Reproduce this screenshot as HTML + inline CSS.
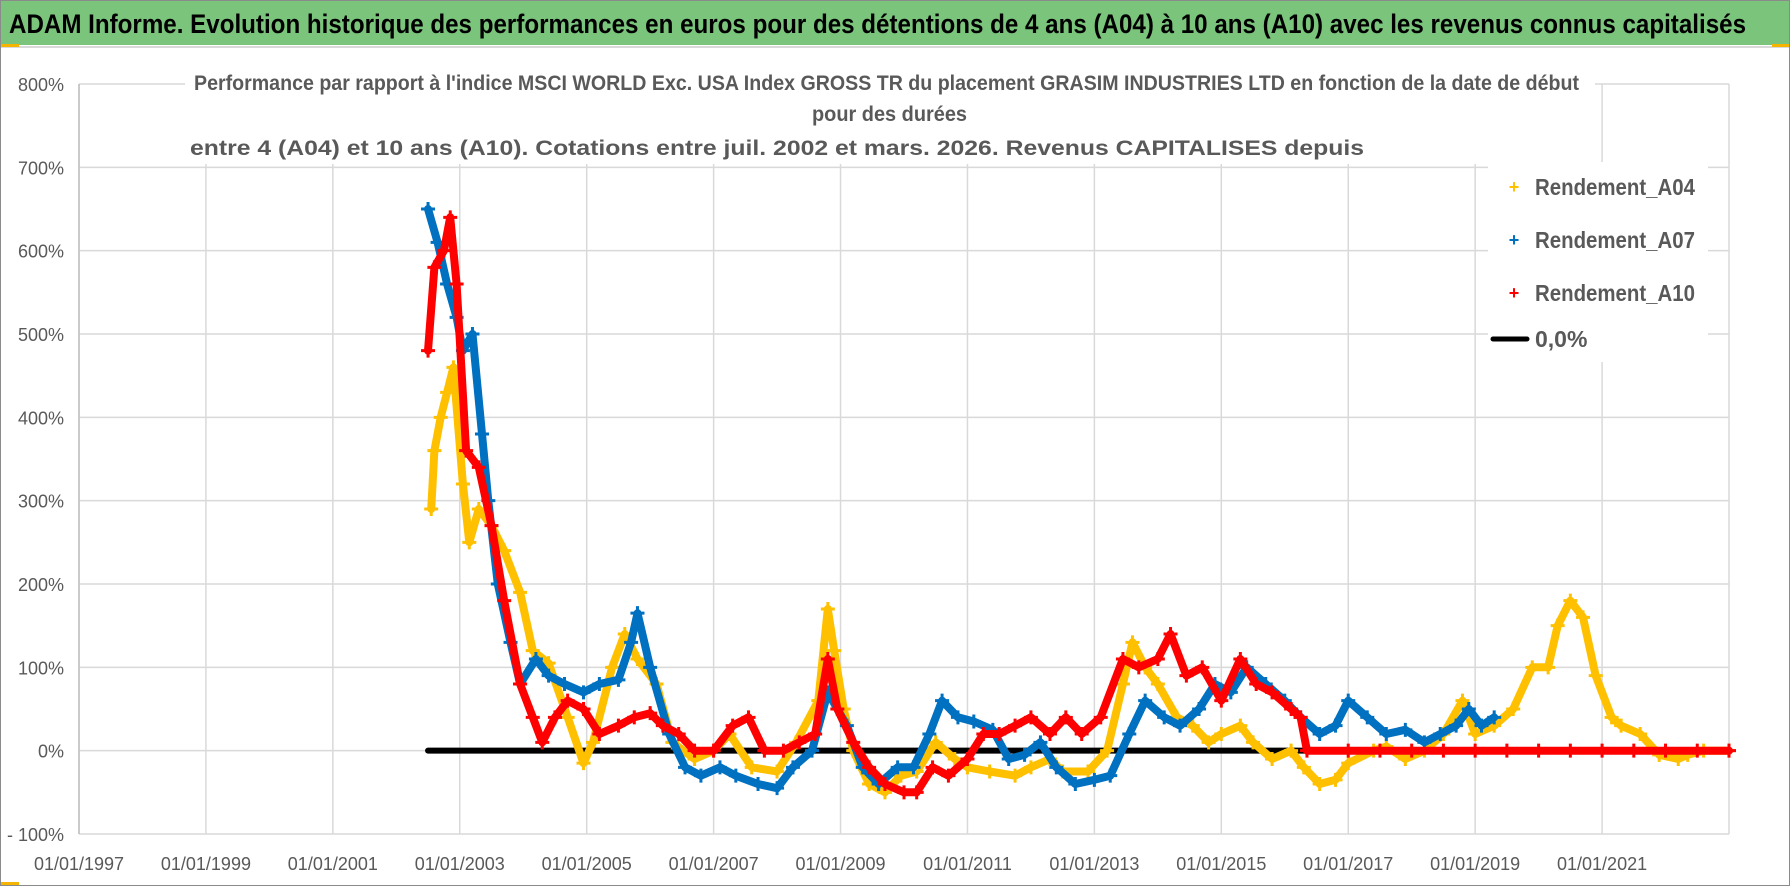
<!DOCTYPE html>
<html><head><meta charset="utf-8"><style>
html,body{margin:0;padding:0;background:#fff}
svg{display:block}
text{font-family:"Liberation Sans Narrow","Liberation Sans",sans-serif}
</style></head><body>
<svg id="chart" width="1790" height="886" viewBox="0 0 1790 886" xmlns="http://www.w3.org/2000/svg">
<rect x="0.5" y="0.5" width="1789" height="885" fill="#fff" stroke="#8a8a8a"/>
<rect x="1" y="1" width="1788" height="44" fill="#7ac47c"/>
<line x1="1" y1="47" x2="1789" y2="47" stroke="#d9d9d9" stroke-width="2"/>
<rect x="1" y="44" width="18" height="3" fill="#f4b400"/>
<rect x="1772" y="44" width="17" height="3" fill="#f4b400"/>
<rect x="1" y="882" width="18" height="3" fill="#f4b400"/>
<text x="9" y="33" font-size="27" font-weight="bold" fill="#000" textLength="1737" lengthAdjust="spacingAndGlyphs">ADAM Informe. Evolution historique des performances en euros pour des détentions de 4 ans (A04) à 10 ans (A10) avec les revenus connus capitalisés</text>
<g id="grid"></g>
<g id="yticks"></g>
<g id="xticks"></g>
<rect x="185" y="64" width="1410" height="100" fill="#fff"/>
<text x="194" y="90" font-size="21" font-weight="bold" fill="#595959" textLength="1385" lengthAdjust="spacingAndGlyphs">Performance par rapport à l'indice MSCI WORLD Exc. USA Index GROSS TR  du placement GRASIM INDUSTRIES LTD en fonction de la date de début</text>
<text x="812" y="121" font-size="21" font-weight="bold" fill="#595959" textLength="155" lengthAdjust="spacingAndGlyphs">pour des durées</text>
<text x="190" y="155" font-size="21" font-weight="bold" fill="#595959" textLength="1174" lengthAdjust="spacingAndGlyphs">entre 4 (A04) et 10 ans (A10). Cotations entre juil. 2002 et mars. 2026. Revenus CAPITALISES depuis</text>
<g id="series"></g>
<g>
<rect x="1488" y="162" width="220" height="200" fill="#fff"/>
<g><text x="1514" y="193" font-size="18" fill="#ffc000" font-weight="bold" text-anchor="middle">+</text><text x="1535" y="195" font-size="23" font-weight="bold" fill="#595959" textLength="160" lengthAdjust="spacingAndGlyphs">Rendement_A04</text></g>
<g><text x="1514" y="246" font-size="18" fill="#0070c0" font-weight="bold" text-anchor="middle">+</text><text x="1535" y="248" font-size="23" font-weight="bold" fill="#595959" textLength="160" lengthAdjust="spacingAndGlyphs">Rendement_A07</text></g>
<g><text x="1514" y="299" font-size="18" fill="#ff0000" font-weight="bold" text-anchor="middle">+</text><text x="1535" y="301" font-size="23" font-weight="bold" fill="#595959" textLength="160" lengthAdjust="spacingAndGlyphs">Rendement_A10</text></g>
<g><line x1="1493" y1="339" x2="1527" y2="339" stroke="#000" stroke-width="5" stroke-linecap="round"/><text x="1535" y="347" font-size="23" font-weight="bold" fill="#595959">0,0%</text></g>
</g>
</svg>
<script>
const yTicks=[-100,0,100,200,300,400,500,600,700,800];
const xTickYears=[1997,1999,2001,2003,2005,2007,2009,2011,2013,2015,2017,2019,2021,2023];
const xTickLabels=["01/01/1997","01/01/1999","01/01/2001","01/01/2003","01/01/2005","01/01/2007","01/01/2009","01/01/2011","01/01/2013","01/01/2015","01/01/2017","01/01/2019","01/01/2021"];
const a04Years=[2002.55,2002.6,2002.7,2002.8,2002.9,2003.05,2003.15,2003.3,2003.5,2003.7,2003.95,2004.15,2004.4,2004.7,2004.95,2005.1,2005.4,2005.6,2005.8,2006.1,2006.35,2006.7,2007.0,2007.25,2007.6,2008.0,2008.3,2008.65,2008.8,2008.9,2009.05,2009.2,2009.45,2009.7,2009.95,2010.2,2010.5,2010.8,2011.0,2011.35,2011.75,2012.0,2012.3,2012.5,2012.9,2013.2,2013.45,2013.6,2013.8,2014.0,2014.3,2014.55,2014.8,2015.0,2015.3,2015.5,2015.8,2016.1,2016.3,2016.55,2016.8,2017.0,2017.4,2017.6,2017.9,2018.2,2018.5,2018.8,2019.0,2019.3,2019.6,2019.9,2020.15,2020.3,2020.5,2020.7,2020.9,2021.15,2021.3,2021.6,2021.9,2022.2,2022.35,2022.6,2023.0];
const a04Values=[290,360,400,430,460,320,250,290,270,240,190,120,105,40,-15,10,100,140,110,80,10,-10,0,20,-20,-25,10,60,170,120,50,0,-40,-50,-30,-25,10,-10,-20,-25,-30,-20,-10,-25,-25,0,80,130,100,80,40,30,10,20,30,10,-10,0,-20,-40,-35,-15,0,5,-10,0,20,60,20,30,50,100,100,150,180,160,90,40,30,20,-5,-10,-5,0,0];
const a07Years=[2002.5,2002.65,2002.8,2002.95,2003.05,2003.2,2003.35,2003.45,2003.6,2003.8,2003.95,2004.2,2004.4,2004.65,2004.95,2005.2,2005.5,2005.7,2005.8,2006.0,2006.3,2006.55,2006.8,2007.1,2007.35,2007.7,2008.0,2008.25,2008.55,2008.8,2009.1,2009.35,2009.6,2009.9,2010.15,2010.4,2010.6,2010.85,2011.1,2011.4,2011.65,2011.9,2012.15,2012.4,2012.7,2013.0,2013.25,2013.55,2013.8,2014.1,2014.35,2014.65,2014.9,2015.15,2015.4,2015.7,2016.0,2016.25,2016.55,2016.8,2017.0,2017.3,2017.6,2017.9,2018.2,2018.45,2018.7,2018.9,2019.1,2019.3];
const a07Values=[650,610,560,520,480,500,380,300,200,130,80,110,90,80,70,80,85,130,165,100,20,-20,-30,-20,-30,-40,-45,-20,0,70,30,-20,-40,-20,-20,20,60,40,35,25,-10,-5,10,-20,-40,-35,-30,20,60,40,30,50,80,70,100,80,60,40,20,30,60,40,20,25,10,20,30,50,30,40];
const a10Years=[2002.5,2002.6,2002.75,2002.85,2002.95,2003.1,2003.3,2003.5,2003.7,2003.95,2004.15,2004.3,2004.5,2004.7,2004.95,2005.2,2005.5,2005.75,2006.0,2006.2,2006.45,2006.7,2007.0,2007.3,2007.55,2007.8,2008.1,2008.35,2008.6,2008.8,2008.95,2009.2,2009.45,2009.7,2010.0,2010.2,2010.45,2010.7,2011.0,2011.25,2011.5,2011.75,2012.0,2012.3,2012.55,2012.8,2013.1,2013.45,2013.7,2014.0,2014.2,2014.45,2014.7,2015.0,2015.3,2015.55,2015.8,2016.1,2016.25,2016.35,2017.0,2017.5,2018.0,2018.5,2019.0,2019.5,2020.0,2020.5,2021.0,2021.5,2022.0,2022.5,2023.0];
const a10Values=[480,580,600,640,560,360,340,270,180,80,40,10,40,60,50,20,30,40,45,30,20,0,0,30,40,0,0,10,20,110,50,10,-20,-40,-50,-50,-20,-30,-10,20,20,30,40,20,40,20,40,110,100,110,140,90,100,60,110,80,70,50,40,0,0,0,0,0,0,0,0,0,0,0,0,0,0];
const zeroLineYears=[2002.5,2023.0];
const zeroLineValues=[0,0];

const NS="http://www.w3.org/2000/svg";
const X0=79,X1=1729,Y0=834,Y1=84;
function xs(yr){return X0+(yr-1997)/(2023-1997)*(X1-X0);}
function ys(v){return Y0-(v+100)/900*(Y0-Y1);}
function mk(tag,attrs,parent){const e=document.createElementNS(NS,tag);for(const k in attrs)e.setAttribute(k,attrs[k]);parent.appendChild(e);return e;}
const grid=document.getElementById('grid'),yg=document.getElementById('yticks'),xg=document.getElementById('xticks'),sg=document.getElementById('series');
yTicks.forEach(v=>{
  const l=mk('line',{x1:X0,x2:X1,y1:ys(v),y2:ys(v),stroke:'#d9d9d9','stroke-width':1.5},grid);
  
  
  const t=mk('text',{x:64,y:ys(v)+7,'font-size':18,fill:'#595959','text-anchor':'end'},yg);
  t.textContent=(v<0?'- '+(-v):v)+'%';
  
  
});
xTickYears.forEach((yr,i)=>{
  const l=mk('line',{x1:xs(yr),x2:xs(yr),y1:Y1,y2:Y0,stroke:'#d9d9d9','stroke-width':1.5},grid);
  
  
  if(xTickLabels[i]){
    const t=mk('text',{x:xs(yr),y:870,'font-size':18,fill:'#595959','text-anchor':'middle'},xg);
    t.textContent=xTickLabels[i];
    
    
  }
});
mk('line',{x1:X0,x2:X0,y1:Y1,y2:Y0,stroke:'#bfbfbf','stroke-width':1.5},grid);
const zl=mk('line',{x1:xs(zeroLineYears[0]),x2:xs(zeroLineYears[1]),y1:ys(zeroLineValues[0]),y2:ys(zeroLineValues[1]),stroke:'#000','stroke-width':6,'stroke-linecap':'round'},sg);


function drawSeries(years,vals,color,name){
  const g=mk('g',{},sg);
  
  
  const pts=years.map((y,i)=>xs(y).toFixed(1)+','+ys(vals[i]).toFixed(1)).join(' ');
  mk('polyline',{points:pts,fill:'none',stroke:color,'stroke-width':8,'stroke-linejoin':'round','stroke-linecap':'round'},g);
  years.forEach((y,i)=>{
    const cx=xs(y),cy=ys(vals[i]);
    const p=mk('path',{d:`M${cx-7},${cy}H${cx+7}M${cx},${cy-7}V${cy+7}`,stroke:color,'stroke-width':3},g);
    
    
  });
}
drawSeries(a04Years,a04Values,'#ffc000','series-a04');
drawSeries(a07Years,a07Values,'#0070c0','series-a07');
drawSeries(a10Years,a10Values,'#ff0000','series-a10');
</script>
</body></html>
